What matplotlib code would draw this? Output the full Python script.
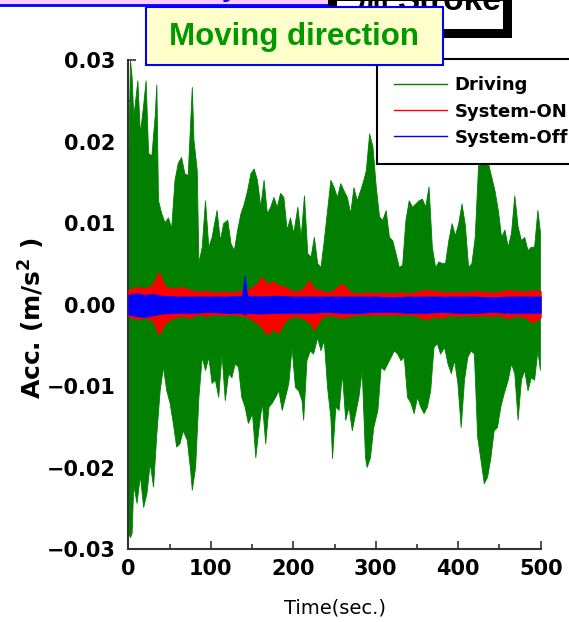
import numpy as np
import matplotlib
matplotlib.use("Agg")
import matplotlib.pyplot as plt
from matplotlib.patches import Rectangle
from matplotlib.lines import Line2D
from matplotlib.ticker import MultipleLocator

# --- data (envelopes of the three acceleration records) ---
# Driving: upper envelope
drv_up_t = [0, 2, 4, 6, 11, 14, 18, 21, 24, 28, 32, 34, 36, 40, 44, 48, 52, 56, 60, 64,
            68, 72, 77, 79, 83, 85, 89, 93, 97, 101, 107, 111, 115, 120, 124, 128, 132, 136, 140, 144,
            148, 152, 156, 160, 164, 168, 172, 176, 180, 184, 188, 192, 196, 200, 205, 209, 213, 217, 221, 225,
            229, 233, 237, 241, 245, 249, 253, 257, 261, 265, 269, 273, 277, 281, 285, 288, 292, 296, 300, 304,
            308, 312, 316, 320, 324, 328, 332, 336, 340, 344, 348, 352, 356, 360, 364, 368, 372, 376, 380, 384,
            388, 392, 396, 400, 404, 408, 412, 416, 420, 424, 428, 432, 436, 440, 444, 448, 452, 456, 460, 464,
            468, 472, 476, 480, 484, 488, 492, 496, 499]
drv_up = [0.0174, 0.0300, 0.0280, 0.0230, 0.0275, 0.0210, 0.0245, 0.0275, 0.0186, 0.0183,
          0.0232, 0.0270, 0.0128, 0.0112, 0.0101, 0.0107, 0.0094, 0.0153, 0.0174, 0.0181,
          0.0161, 0.0159, 0.0267, 0.0202, 0.0165, 0.0051, 0.0071, 0.0128, 0.0071, 0.0083,
          0.0116, 0.0079, 0.0100, 0.0104, 0.0075, 0.0067, 0.0092, 0.0112, 0.0124, 0.0140,
          0.0161, 0.0167, 0.0153, 0.0120, 0.0153, 0.0112, 0.0120, 0.0132, 0.0120, 0.0137,
          0.0132, 0.0092, 0.0107, 0.0088, 0.0120, 0.0083, 0.0134, 0.0063, 0.0059, 0.0083,
          0.0051, 0.0046, 0.0079, 0.0116, 0.0153, 0.0144, 0.0132, 0.0149, 0.0140, 0.0132,
          0.0112, 0.0144, 0.0128, 0.0140, 0.0153, 0.0165, 0.0210, 0.0194, 0.0145, 0.0108,
          0.0104, 0.0116, 0.0083, 0.0079, 0.0063, 0.0046, 0.0049, 0.0104, 0.0128, 0.0120,
          0.0124, 0.0128, 0.0130, 0.0120, 0.0145, 0.0071, 0.0046, 0.0053, 0.0051, 0.0051,
          0.0079, 0.0100, 0.0085, 0.0100, 0.0124, 0.0098, 0.0046, 0.0051, 0.0083, 0.0169,
          0.0190, 0.0177, 0.0174, 0.0157, 0.0140, 0.0116, 0.0083, 0.0092, 0.0071, 0.0088,
          0.0134, 0.0096, 0.0079, 0.0083, 0.0067, 0.0071, 0.0071, 0.0116, 0.0090]

# Driving: lower envelope
drv_lo_t = [0, 2, 4, 6, 10, 14, 18, 22, 26, 30, 34, 38, 42, 46, 50, 54, 58, 62, 66, 71,
            75, 77, 81, 85, 89, 93, 97, 101, 105, 109, 113, 117, 121, 125, 129, 133, 137, 141, 145, 150,
            154, 158, 162, 166, 170, 174, 178, 182, 186, 190, 194, 198, 202, 206, 210, 212, 216, 220, 224, 229,
            233, 237, 241, 245, 247, 251, 255, 259, 263, 267, 271, 275, 279, 283, 287, 289, 293, 297, 302, 306,
            310, 314, 318, 322, 326, 330, 334, 338, 342, 346, 350, 354, 358, 362, 366, 370, 374, 378, 383, 387,
            391, 395, 399, 403, 407, 411, 415, 419, 423, 427, 431, 435, 439, 443, 447, 451, 455, 460, 464, 468,
            472, 476, 480, 484, 488, 492, 496, 499]
drv_lo = [-0.0280, -0.0285, -0.0280, -0.0221, -0.0243, -0.0209, -0.0248, -0.0231, -0.0194, -0.0223,
          -0.0158, -0.0105, -0.0076, -0.0105, -0.0120, -0.0145, -0.0174, -0.0170, -0.0154, -0.0166,
          -0.0203, -0.0227, -0.0199, -0.0113, -0.0064, -0.0080, -0.0064, -0.0096, -0.0092, -0.0113,
          -0.0060, -0.0117, -0.0084, -0.0089, -0.0072, -0.0076, -0.0113, -0.0125, -0.0145, -0.0133,
          -0.0187, -0.0150, -0.0120, -0.0170, -0.0125, -0.0120, -0.0113, -0.0105, -0.0129, -0.0113,
          -0.0096, -0.0052, -0.0101, -0.0105, -0.0117, -0.0141, -0.0068, -0.0056, -0.0060, -0.0040,
          -0.0056, -0.0043, -0.0101, -0.0138, -0.0188, -0.0125, -0.0129, -0.0084, -0.0141, -0.0125,
          -0.0154, -0.0133, -0.0113, -0.0080, -0.0187, -0.0199, -0.0187, -0.0150, -0.0129, -0.0076,
          -0.0080, -0.0072, -0.0064, -0.0056, -0.0060, -0.0068, -0.0064, -0.0113, -0.0120, -0.0133,
          -0.0113, -0.0125, -0.0133, -0.0125, -0.0105, -0.0052, -0.0047, -0.0060, -0.0052, -0.0072,
          -0.0084, -0.0068, -0.0096, -0.0150, -0.0092, -0.0064, -0.0056, -0.0060, -0.0162, -0.0190,
          -0.0219, -0.0211, -0.0187, -0.0154, -0.0150, -0.0125, -0.0109, -0.0092, -0.0072, -0.0084,
          -0.0141, -0.0092, -0.0080, -0.0105, -0.0089, -0.0092, -0.0056, -0.0080]

# System-ON
on_t = [0, 10, 20, 30, 37, 45, 55, 65, 75, 85, 95, 105, 115, 125, 135, 145, 155, 162, 168, 175,
        182, 190, 200, 210, 220, 225, 235, 245, 259, 270, 280, 290, 300, 310, 320, 330, 340, 350, 360, 370,
        380, 390, 400, 410, 420, 430, 440, 450, 460, 470, 480, 490, 500]
on_up = [0.0018, 0.0022, 0.0020, 0.0025, 0.0040, 0.0022, 0.0020, 0.0022, 0.0018, 0.0016,
         0.0017, 0.0015, 0.0016, 0.0015, 0.0017, 0.0018, 0.0025, 0.0034, 0.0026, 0.0028,
         0.0024, 0.0022, 0.0016, 0.0018, 0.0030, 0.0020, 0.0017, 0.0015, 0.0026, 0.0015,
         0.0014, 0.0015, 0.0014, 0.0015, 0.0014, 0.0015, 0.0014, 0.0016, 0.0018, 0.0017,
         0.0016, 0.0015, 0.0016, 0.0015, 0.0017, 0.0016, 0.0015, 0.0016, 0.0018, 0.0017,
         0.0016, 0.0018, 0.0017]
on_lo = [-0.0014, -0.0018, -0.0016, -0.0020, -0.0037, -0.0022, -0.0016, -0.0014, -0.0016, -0.0012,
         -0.0014, -0.0012, -0.0013, -0.0012, -0.0013, -0.0015, -0.0022, -0.0028, -0.0037, -0.0030,
         -0.0035, -0.0020, -0.0014, -0.0016, -0.0022, -0.0031, -0.0015, -0.0013, -0.0016, -0.0014,
         -0.0012, -0.0013, -0.0012, -0.0013, -0.0012, -0.0013, -0.0012, -0.0014, -0.0018, -0.0015,
         -0.0016, -0.0013, -0.0014, -0.0013, -0.0014, -0.0013, -0.0014, -0.0013, -0.0017, -0.0014,
         -0.0015, -0.0022, -0.0016]

# System-Off
off_t = [0, 10, 20, 30, 40, 60, 80, 100, 120, 138, 141, 144, 160, 180, 200,
         220, 240, 260, 280, 300, 320, 340, 360, 380, 400, 420, 440, 460, 480, 500]
off_up = [0.0012, 0.0014, 0.0012, 0.0013, 0.0011, 0.0010, 0.0010, 0.0010, 0.0010, 0.0011,
          0.0036, 0.0011, 0.0010, 0.0011, 0.0010, 0.0010, 0.0010, 0.0010, 0.0010, 0.0010,
          0.0009, 0.0010, 0.0010, 0.0010, 0.0010, 0.0010, 0.0009, 0.0010, 0.0010, 0.0010]
off_lo = [-0.0012, -0.0014, -0.0015, -0.0013, -0.0011, -0.0010, -0.0010, -0.0009, -0.0010, -0.0010,
          -0.0012, -0.0010, -0.0011, -0.0010, -0.0010, -0.0010, -0.0009, -0.0010, -0.0010, -0.0009,
          -0.0009, -0.0010, -0.0010, -0.0009, -0.0010, -0.0010, -0.0009, -0.0010, -0.0010, -0.0010]

series_names = ['Driving', 'System-ON', 'System-Off']
series_colors = ['#007F00', '#FF0000', '#0000FF']

x_ticks = [0, 100, 200, 300, 400, 500]
y_ticks = [-0.03, -0.02, -0.01, 0.00, 0.01, 0.02, 0.03]
y_labels = ['\u22120.03', '\u22120.02', '\u22120.01', '0.00', '0.01', '0.02', '0.03']

plt.rcParams['font.family'] = ['DejaVu Sans']
plt.rcParams['mathtext.fontset'] = 'dejavusans'

W, H = 569, 622
fig = plt.figure(figsize=(W / 100, H / 100), dpi=100)
ax = fig.add_axes([128.3 / W, 1 - 549.3 / H, 412.4 / W, 489.3 / H])

# the three records, drawn as filled envelopes
ax.fill_between(drv_up_t, drv_up, 0, color=series_colors[0], lw=0.6, zorder=2)
ax.fill_between(drv_lo_t, drv_lo, 0, color=series_colors[0], lw=0.6, zorder=2)
ax.fill_between(on_t, on_lo, on_up, color=series_colors[1], lw=0.6, zorder=3)
ax.fill_between(off_t, off_lo, off_up, color=series_colors[2], lw=0.6, zorder=4)

ax.set_xlim(0, 500)
ax.set_ylim(-0.03, 0.03)
ax.set_xticks(x_ticks)
ax.set_xticklabels([str(v) for v in x_ticks])
ax.set_yticks(y_ticks)
ax.set_yticklabels(y_labels)
ax.xaxis.set_minor_locator(MultipleLocator(50))
ax.yaxis.set_minor_locator(MultipleLocator(0.005))
ax.tick_params(which='both', direction='in', colors='#333333', width=1.2)
ax.tick_params(which='major', length=6)
ax.tick_params(which='minor', length=3.5)
ax.tick_params(axis='y', pad=9)
ax.tick_params(axis='x', pad=7)
for lab in ax.get_xticklabels() + ax.get_yticklabels():
    lab.set_fontsize(15)
    lab.set_fontweight('bold')
    lab.set_color('black')
for s in ['top', 'right']:
    ax.spines[s].set_visible(False)
for s in ['left', 'bottom']:
    ax.spines[s].set_color('#333333')
    ax.spines[s].set_linewidth(1.5)

ax.set_ylabel(r'Acc. (m/s$^{\mathbf{2}}$ )', fontsize=18, fontweight='bold')
ax.yaxis.set_label_coords(-0.197, 0.472)
ax.set_xlabel('Time(sec.)', fontsize=14)
ax.xaxis.set_label_coords(0.5, -0.100)

# legend
handles = [Line2D([], [], color=c, lw=1) for c in series_colors]
leg = fig.legend(handles, series_names, loc='upper left',
                 bbox_to_anchor=(376.7 / W, 1 - 59.3 / H), borderaxespad=0,
                 fancybox=False, edgecolor='black', framealpha=1,
                 prop={'weight': 'bold', 'size': 13},
                 handlelength=2.95, handletextpad=0.4, borderpad=0.95, labelspacing=0.45)
leg.get_frame().set_linewidth(1.5)
leg.set_zorder(5)

# boxes cut off at the top of the slide
pink = Rectangle((-0.02, 1 - 5 / H), 332 / W + 0.02, 0.05, transform=fig.transFigure,
                 facecolor='#FFCCFF', edgecolor='#0000FF', lw=2, zorder=6)
fig.add_artist(pink)
fig.text(222 / W, 1 + 4 / H, 'y', color='#0000FF', fontsize=20, fontweight='bold',
         family='Liberation Sans', va='baseline', zorder=7)
stroke_box = Rectangle((332 / W, 1 - 33 / H), 175 / W, 0.06, transform=fig.transFigure,
                       facecolor='white', edgecolor='black', lw=6.5, zorder=6)
fig.add_artist(stroke_box)
fig.text(372 / W, 1 - 10 / H, '加', fontsize=24, fontweight='bold', ha='center', va='baseline',
         family=['Noto Sans CJK JP', 'DejaVu Sans'], zorder=7)
fig.text(501 / W, 1 - 10 / H, 'Stroke', fontsize=24, fontweight='bold', ha='right', va='baseline',
         family='Liberation Sans', zorder=7)

move_box = Rectangle((145.8 / W, 1 - 65 / H), (443 - 145.8) / W, 58 / H, transform=fig.transFigure,
                     facecolor='#FFFFCC', edgecolor='#0000FF', lw=1.5, zorder=8)
fig.add_artist(move_box)
fig.text((145.8 + 443) / 2 / W, 1 - 37 / H, 'Moving direction', color='#009900', fontsize=22.5,
         fontweight='bold', family='Liberation Sans', ha='center', va='center', zorder=9)

fig.savefig('out.png', dpi=100)
